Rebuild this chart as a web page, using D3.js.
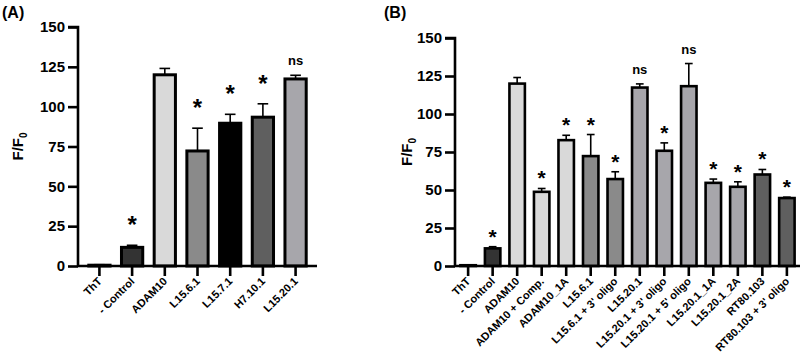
<!DOCTYPE html>
<html>
<head>
<meta charset="utf-8">
<script src="https://cdn.jsdelivr.net/npm/d3@7"></script>
<style>
  body { margin: 0; background: #fff; }
  svg text { font-family: "Liberation Sans", Arial, sans-serif; font-weight: bold; }
</style>
</head>
<body>
<div id="chart"></div>
<script>
// panel A
const catsA = ["ThT", "- Control", "ADAM10", "L15.6.1", "L15.7.1", "H7.10.1", "L15.20.1"];
const valsA = [0.5, 11.7, 120, 72.2, 89.6, 93.4, 117.4];
const errA  = [0.3, 1.3, 4, 14.3, 5.6, 8.4, 2.3];
const sigA  = ["", "*", "", "*", "*", "*", "ns"];
const fillA = ["#999", "#333", "#d9d9d9", "#8a8a8a", "#000", "#5f5f5f", "#a7a6ab"];

// panel B
const catsB = ["ThT", "- Control", "ADAM10", "ADAM10 + Comp.", "ADAM10_1A", "L15.6.1",
  "L15.6.1 + 3' oligo", "L15.20.1", "L15.20.1 + 3' oligo", "L15.20.1 + 5' oligo",
  "L15.20.1_1A", "L15.20.1_2A", "RT80.103", "RT80.103 + 3' oligo"];
const valsB = [0.5, 11.6, 120, 48.8, 82.8, 72.3, 57.2, 117.4, 75.8, 118.3, 54.7, 52.1, 60.2, 44.7];
const errB  = [0.3, 1.1, 4, 2.2, 3.2, 14.2, 4.8, 2.4, 5.2, 14.9, 2.5, 3.3, 3.3, 0.6];
const sigB  = ["", "*", "", "*", "*", "*", "*", "ns", "*", "ns", "*", "*", "*", "*"];
const fillB = ["#999", "#333", "#d9d9d9", "#d9d9d9", "#d9d9d9", "#8a8a8a", "#8a8a8a",
  "#a7a6ab", "#a7a6ab", "#a7a6ab", "#a7a6ab", "#a7a6ab", "#5f5f5f", "#5f5f5f"];

const yTicks = [0, 25, 50, 75, 100, 125, 150];

const svg = d3.select("#chart").append("svg")
    .attr("width", 803)
    .attr("height", 358);

function panel(cfg) {
  const {cats, vals, errs, sigs, fills, x0, x1, yTop, yZero, pad, barStroke, title, titleX, labelX} = cfg;
  const g = svg.append("g");

  const x = d3.scaleBand().domain(cats).range([x0, x1]).paddingInner(pad).paddingOuter(cfg.outer);
  const y = d3.scaleLinear().domain([0, 150]).range([yZero, yTop]);

  // bars
  g.selectAll("rect.bar")
    .data(cats)
    .join("rect")
      .attr("class", "bar")
      .attr("x", d => x(d))
      .attr("width", x.bandwidth())
      .attr("y", (d, i) => y(vals[i]))
      .attr("height", (d, i) => y(0) - y(vals[i]))
      .attr("fill", (d, i) => fills[i])
      .attr("stroke", "#000")
      .attr("stroke-width", barStroke);

  // error bars (upper only)
  const capW = x.bandwidth() * 0.5;
  const eb = g.append("g").attr("stroke", "#000").attr("stroke-width", 1.6);
  cats.forEach((c, i) => {
    const cx = x(c) + x.bandwidth() / 2;
    eb.append("line").attr("x1", cx).attr("x2", cx).attr("y1", y(vals[i])).attr("y2", y(vals[i] + errs[i]));
    eb.append("line").attr("x1", cx - capW / 2).attr("x2", cx + capW / 2)
      .attr("y1", y(vals[i] + errs[i])).attr("y2", y(vals[i] + errs[i]));
  });

  // significance marks
  g.selectAll("text.sig")
    .data(cats)
    .join("text")
      .attr("class", "sig")
      .attr("x", d => x(d) + x.bandwidth() / 2)
      .attr("y", (d, i) => y(vals[i] + errs[i]) - (sigs[i] === "ns" ? 10 : cfg.starGap))
      .attr("text-anchor", "middle")
      .attr("font-size", (d, i) => sigs[i] === "ns" ? 13 : cfg.starSize)
      .text((d, i) => sigs[i]);

  // y axis
  const yAxis = g.append("g")
      .attr("transform", `translate(${x0},0)`)
      .call(d3.axisLeft(y).tickValues(yTicks).tickSize(10).tickPadding(3));
  yAxis.select(".domain").attr("stroke-width", 2.6).attr("d", `M-10,${yTop}H0V${yZero}`);
  yAxis.selectAll(".tick line").attr("stroke-width", 2.6);
  yAxis.selectAll(".tick text").attr("font-size", 15).attr("fill", "#000");

  // x axis
  const xAxis = g.append("g")
      .attr("transform", `translate(0,${yZero})`)
      .call(d3.axisBottom(x).tickSize(10).tickFormat(""));
  xAxis.select(".domain").attr("stroke-width", 2.6).attr("d", `M${x0},0H${x1}`);
  xAxis.selectAll(".tick line").attr("stroke-width", 2.6);

  g.selectAll("text.xl")
    .data(cats)
    .join("text")
      .attr("class", "xl")
      .attr("transform", d => `translate(${x(d) + x.bandwidth() / 2 + 3},${yZero + 16}) rotate(-45)`)
      .attr("text-anchor", "end")
      .attr("font-size", 11)
      .text(d => d);

  // y label
  const yl = g.append("text")
      .attr("transform", `translate(${labelX},${(yTop + yZero) / 2}) rotate(-90)`)
      .attr("text-anchor", "middle")
      .attr("font-size", 15);
  yl.append("tspan").text("F/F");
  yl.append("tspan").attr("font-size", 10).attr("dy", 4).text("0");

  // panel title
  g.append("text")
      .attr("x", titleX).attr("y", 18)
      .attr("font-size", 16)
      .text(title);
}

panel({cats: catsA, vals: valsA, errs: errA, sigs: sigA, fills: fillA,
  x0: 78, x1: 317, yTop: 27, yZero: 266, pad: 0.35, outer: 0.33, barStroke: 3,
  starSize: 24, starGap: 12,
  title: "(A)", titleX: 2, labelX: 23});

panel({cats: catsB, vals: valsB, errs: errB, sigs: sigB, fills: fillB,
  x0: 455, x1: 800, yTop: 38, yZero: 266, pad: 0.37, outer: 0.22, barStroke: 2.6,
  starSize: 21, starGap: 3,
  title: "(B)", titleX: 384, labelX: 412});
</script>
</body>
</html>
